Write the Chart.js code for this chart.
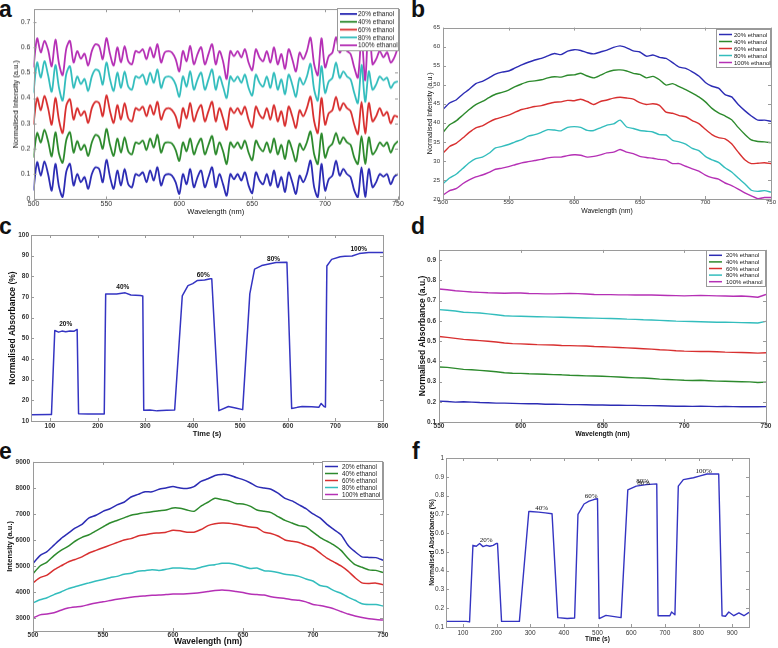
<!DOCTYPE html>
<html>
<head>
<meta charset="utf-8">
<script src="https://cdn.jsdelivr.net/npm/chart.js@4.4.1/dist/chart.umd.min.js"></script>
<style>
  html, body { margin: 0; padding: 0; background: #fff; }
  body { width: 778px; height: 648px; position: relative; overflow: hidden; }
  canvas { position: absolute; }
  .tag { position: absolute; font: bold 23px "Liberation Sans", Arial, sans-serif; line-height: 23px; color: #111; }
</style>
</head>
<body>
<div class="tag" style="left:-1px;top:-2.5px">a</div>
<div class="tag" style="left:411px;top:-2.5px">b</div>
<div class="tag" style="left:-1px;top:214.5px">c</div>
<div class="tag" style="left:411px;top:214.5px">d</div>
<div class="tag" style="left:-1px;top:439.5px">e</div>
<div class="tag" style="left:412px;top:439.5px">f</div>

<canvas id="chartA"></canvas>
<canvas id="chartB"></canvas>
<canvas id="chartC"></canvas>
<canvas id="chartD"></canvas>
<canvas id="chartE"></canvas>
<canvas id="chartF"></canvas>

<script>
// ===== DATA =====
const seriesNames = ['20% ethanol', '40% ethanol', '60% ethanol', '80% ethanol', '100% ethanol'];

// panel a : 500..750 nm, step 2.5 nm
const a20 = [0.035,0.147,0.094,0.150,0.100,0.035,0.140,0.050,0.010,0.110,
  0.140,0.055,0.100,0.068,0.088,0.042,0.100,0.127,0.120,0.068,
  0.156,0.088,0.042,0.114,0.055,0.120,0.060,0.048,0.100,0.094,
  0.107,0.068,0.114,0.075,0.127,0.055,0.094,0.100,0.094,0.068,
  0.022,0.100,0.060,0.120,0.048,0.088,0.114,0.048,0.088,0.127,
  0.048,0.100,0.060,0.015,0.100,0.080,0.100,0.075,0.107,0.055,
  0.025,0.107,0.075,0.060,0.100,0.055,0.114,0.048,0.088,0.030,
  0.107,0.068,0.022,0.094,0.068,0.100,0.153,0.048,0.010,0.140,
  0.035,0.080,0.094,0.153,0.094,0.120,0.100,0.088,0.035,0.010,
  0.127,0.010,0.120,0.048,0.068,0.100,0.090,0.100,0.060,0.090,
  0.100];
const a40 = [0.165,0.262,0.225,0.275,0.230,0.170,0.265,0.180,0.145,0.235,
  0.265,0.185,0.230,0.195,0.215,0.172,0.225,0.255,0.245,0.200,
  0.278,0.215,0.172,0.240,0.185,0.245,0.190,0.178,0.225,0.220,
  0.232,0.195,0.240,0.205,0.255,0.185,0.222,0.225,0.220,0.195,
  0.152,0.225,0.190,0.240,0.178,0.215,0.240,0.178,0.215,0.250,
  0.178,0.225,0.190,0.140,0.225,0.205,0.225,0.200,0.232,0.185,
  0.155,0.232,0.205,0.190,0.225,0.185,0.240,0.178,0.215,0.160,
  0.232,0.195,0.150,0.220,0.195,0.225,0.268,0.178,0.140,0.260,
  0.165,0.205,0.220,0.262,0.220,0.245,0.225,0.215,0.165,0.140,
  0.250,0.140,0.245,0.178,0.195,0.225,0.210,0.225,0.185,0.215,
  0.230];
const a60 = [0.295,0.400,0.352,0.408,0.360,0.295,0.400,0.312,0.262,0.370,
  0.395,0.315,0.360,0.330,0.348,0.302,0.360,0.385,0.380,0.328,
  0.410,0.348,0.302,0.372,0.315,0.380,0.320,0.308,0.360,0.352,
  0.366,0.328,0.372,0.335,0.385,0.315,0.352,0.360,0.352,0.328,
  0.282,0.360,0.320,0.380,0.308,0.348,0.372,0.308,0.348,0.385,
  0.308,0.360,0.320,0.275,0.360,0.340,0.360,0.335,0.366,0.315,
  0.285,0.366,0.335,0.320,0.360,0.315,0.372,0.308,0.348,0.290,
  0.366,0.328,0.282,0.352,0.328,0.360,0.405,0.308,0.262,0.400,
  0.295,0.340,0.352,0.405,0.352,0.380,0.360,0.348,0.295,0.258,
  0.385,0.260,0.380,0.308,0.328,0.360,0.330,0.345,0.300,0.330,
  0.325];
const a80 = [0.420,0.540,0.480,0.545,0.490,0.425,0.530,0.440,0.390,0.495,
  0.525,0.440,0.485,0.455,0.475,0.428,0.485,0.512,0.505,0.453,
  0.540,0.473,0.428,0.500,0.440,0.505,0.445,0.433,0.485,0.479,
  0.492,0.453,0.500,0.460,0.512,0.440,0.479,0.485,0.479,0.453,
  0.405,0.485,0.445,0.505,0.433,0.473,0.500,0.433,0.473,0.512,
  0.433,0.485,0.445,0.400,0.485,0.465,0.485,0.460,0.492,0.440,
  0.410,0.492,0.460,0.445,0.485,0.440,0.500,0.433,0.473,0.415,
  0.492,0.453,0.405,0.479,0.453,0.485,0.535,0.433,0.390,0.525,
  0.420,0.465,0.479,0.540,0.479,0.505,0.485,0.473,0.420,0.380,
  0.530,0.385,0.505,0.433,0.453,0.485,0.470,0.480,0.440,0.460,
  0.465];
const a100 = [0.520,0.635,0.580,0.625,0.590,0.525,0.630,0.535,0.490,0.595,
  0.625,0.540,0.585,0.555,0.575,0.528,0.585,0.612,0.605,0.553,
  0.636,0.573,0.528,0.600,0.540,0.605,0.545,0.533,0.585,0.579,
  0.592,0.553,0.600,0.560,0.612,0.540,0.579,0.585,0.579,0.553,
  0.505,0.585,0.545,0.605,0.533,0.573,0.600,0.533,0.573,0.612,
  0.533,0.585,0.545,0.475,0.585,0.565,0.585,0.560,0.592,0.540,
  0.510,0.592,0.560,0.545,0.585,0.540,0.600,0.533,0.573,0.515,
  0.592,0.553,0.505,0.579,0.553,0.585,0.638,0.533,0.490,0.635,
  0.520,0.565,0.579,0.640,0.579,0.605,0.585,0.573,0.520,0.480,
  0.640,0.470,0.720,0.533,0.553,0.585,0.560,0.580,0.540,0.560,
  0.600];

// panel b : 500..750 nm, step 5 nm
const b20 = [43.5,45.2,46.0,47.5,48.8,50.3,50.9,51.8,52.8,53.3,
  53.6,54.4,55.2,55.9,56.5,56.9,57.6,58.2,57.9,58.8,
  59.2,59.0,58.4,58.1,58.6,59.1,59.8,60.2,59.7,58.9,
  58.6,57.5,57.8,57.2,56.9,55.8,54.6,54.3,53.4,52.3,
  50.6,49.6,49.1,47.4,46.8,44.8,43.2,41.8,40.7,40.7,
  40.4];
const b40 = [37.5,39.5,40.5,42.0,43.5,44.8,45.6,46.6,47.5,48.0,
  48.6,49.5,50.2,50.8,51.0,51.3,51.8,52.1,52.0,52.5,
  52.6,53.0,52.3,51.8,52.5,53.3,53.8,53.9,53.6,53.0,
  52.7,51.8,52.2,51.3,49.9,50.3,49.5,48.7,47.8,46.8,
  45.5,43.8,42.6,41.8,40.8,38.8,37.0,35.5,35.1,35.0,
  34.8];
const b60 = [32.0,33.8,34.6,36.0,37.5,38.7,39.2,40.2,41.0,41.5,
  42.0,42.8,43.5,43.9,44.3,44.5,45.0,45.4,45.5,45.9,
  45.8,46.2,45.6,44.8,45.6,46.0,46.5,46.7,46.5,46.2,
  45.3,44.8,45.0,44.6,42.8,42.5,41.9,41.6,40.6,39.8,
  38.3,36.9,36.1,35.8,34.5,32.3,30.3,29.3,29.4,29.5,
  29.3];
const b80 = [24.0,25.5,26.5,28.0,29.5,30.6,31.0,32.0,33.4,33.8,
  34.3,35.0,35.6,36.5,36.9,37.5,38.2,38.1,37.9,38.8,
  39.0,38.8,38.0,38.0,38.7,39.4,39.7,40.7,38.9,38.5,
  38.0,37.8,37.6,36.9,36.8,35.4,35.0,34.4,33.3,32.7,
  31.2,30.3,29.6,28.2,27.1,25.5,24.0,22.3,22.0,22.2,
  21.8];
const b100 = [21.0,22.2,22.7,24.0,25.0,25.8,26.3,27.0,27.8,28.1,
  28.5,29.0,29.5,29.8,30.1,30.4,30.8,31.0,31.0,31.4,
  31.6,31.5,31.0,31.2,31.6,32.1,32.3,33.0,32.3,31.9,
  31.2,30.9,30.7,30.4,30.2,29.3,29.3,28.6,27.9,27.3,
  26.3,25.6,25.2,24.2,23.5,22.6,21.6,20.8,20.1,20.4,
  20.4];

// panel c : time (s) / absorbance (%)
const cTime = [60,100,103,110,118,125,133,142,150,157,
  160,180,200,214,217,240,258,270,290,295,
  297,310,325,345,362,378,390,400,410,425,
  437,440,455,475,490,505,520,530,545,560,
  575,598,608,620,630,650,665,670,676,679,
  682,692,710,720,735,750,770,800];
const cAbs = [13,13.2,13.1,53.8,53,53.5,53.2,53.5,53.4,54.3,
  13.5,13.4,13.4,13.4,71.5,71.5,72,71,70.7,70.5,
  15.2,15.3,14.9,15.2,15.3,70.5,75.5,76.5,78,78.2,
  78.8,78.8,15,17,16.3,15.5,71.5,83.5,85.2,86,
  86.7,86.8,16,16.6,17,16.9,16.6,18.5,17,16.8,
  85,88.2,89.5,89.7,89.8,91,91.5,91.5];
const cMarkText = ['20%', '40%', '60%', '80%', '100%'];
const cMarkTime = [133, 253, 422, 570, 749];
const cMarkAbs = [56.9, 74.8, 80.6, 88.4, 93.2];

// panel d : 550..750 nm, step 5 nm
const d20 = [0.203,0.201,0.198,0.200,0.198,0.196,0.195,0.193,0.193,0.192,
  0.191,0.190,0.190,0.188,0.188,0.187,0.186,0.186,0.185,0.184,
  0.184,0.183,0.183,0.182,0.182,0.181,0.181,0.180,0.179,0.178,
  0.178,0.177,0.178,0.177,0.176,0.177,0.176,0.175,0.176,0.175,
  0.176];
const d40 = [0.372,0.370,0.365,0.360,0.358,0.355,0.352,0.348,0.343,0.341,
  0.340,0.338,0.337,0.336,0.334,0.333,0.331,0.330,0.328,0.327,
  0.326,0.324,0.322,0.320,0.318,0.317,0.315,0.312,0.310,0.308,
  0.306,0.305,0.306,0.304,0.302,0.301,0.300,0.299,0.298,0.295,
  0.297];
const d60 = [0.522,0.518,0.513,0.508,0.505,0.502,0.499,0.495,0.490,0.487,
  0.486,0.484,0.482,0.481,0.480,0.478,0.477,0.476,0.475,0.473,
  0.472,0.470,0.468,0.466,0.464,0.462,0.460,0.457,0.455,0.452,
  0.450,0.449,0.448,0.448,0.447,0.445,0.444,0.443,0.442,0.440,
  0.442];
const d80 = [0.655,0.652,0.648,0.642,0.640,0.638,0.634,0.630,0.625,0.623,
  0.622,0.621,0.620,0.619,0.618,0.617,0.616,0.615,0.614,0.613,
  0.612,0.611,0.610,0.608,0.607,0.605,0.604,0.602,0.600,0.598,
  0.597,0.596,0.595,0.594,0.593,0.593,0.592,0.591,0.590,0.589,
  0.597];
const d100 = [0.757,0.753,0.748,0.745,0.742,0.740,0.738,0.737,0.736,0.737,
  0.737,0.735,0.734,0.733,0.733,0.734,0.735,0.734,0.732,0.730,
  0.729,0.729,0.728,0.728,0.727,0.728,0.727,0.726,0.725,0.724,
  0.723,0.724,0.725,0.724,0.723,0.722,0.721,0.722,0.720,0.716,
  0.730];

// panel e : 500..750 nm, step 5 nm
const e20 = [5100,5400,5550,5800,6050,6250,6450,6600,6850,6950,
  7100,7200,7350,7450,7650,7750,7850,7850,7950,8000,
  8050,8000,7980,8050,8250,8350,8480,8520,8500,8400,
  8320,8200,8050,8000,7950,7800,7600,7500,7350,7200,
  7000,6850,6600,6400,6200,5800,5550,5350,5330,5320,
  5220];
const e40 = [4700,5000,5150,5400,5600,5750,5950,6100,6200,6350,
  6500,6650,6750,6850,6950,7000,7050,7080,7120,7150,
  7230,7220,7150,7100,7300,7450,7600,7550,7500,7400,
  7380,7300,7150,7100,7050,6900,6750,6650,6550,6500,
  6300,6100,5950,5800,5600,5300,5050,4950,4850,4830,
  4750];
const e60 = [4350,4550,4650,4850,5000,5150,5250,5350,5500,5600,
  5700,5800,5900,6000,6050,6150,6200,6250,6270,6300,
  6370,6350,6300,6300,6400,6550,6620,6650,6640,6600,
  6550,6500,6470,6300,6250,6150,6000,5950,5900,5800,
  5700,5500,5300,5150,5000,4800,4550,4350,4330,4340,
  4280];
const e80 = [3580,3700,3780,3900,4000,4120,4200,4280,4350,4420,
  4480,4550,4600,4680,4720,4800,4820,4850,4830,4870,
  4920,4920,4900,4880,4950,5020,5050,5100,5100,5060,
  4980,4900,4920,4820,4800,4750,4680,4650,4600,4500,
  4420,4250,4200,4050,3950,3800,3680,3550,3520,3520,
  3460];
const e100 = [3000,3120,3150,3200,3300,3380,3420,3450,3520,3580,
  3620,3670,3720,3760,3800,3830,3850,3870,3880,3900,
  3920,3920,3930,3950,3980,4020,4060,4080,4060,4020,
  3980,3920,3900,3880,3820,3780,3750,3700,3680,3620,
  3520,3480,3420,3350,3250,3150,3080,3020,2970,2940,
  2920];

// panel f : time (s) / absorbance
const fTime = [50,110,120,130,140,150,160,170,180,190,
  200,203,215,268,296,300,325,345,365,382,
  410,432,442,460,475,491,500,505,525,570,
  590,615,645,676,680,700,715,720,730,740,
  755,785,805,825,860,870,880,890,905,920,
  935,950];
const fAbs = [0.13,0.13,0.127,0.535,0.53,0.545,0.528,0.535,0.53,0.535,
  0.545,0.545,0.13,0.13,0.715,0.715,0.712,0.708,0.703,0.15,
  0.145,0.148,0.70,0.755,0.77,0.78,0.783,0.145,0.162,0.15,
  0.83,0.85,0.858,0.862,0.16,0.16,0.16,0.18,0.165,0.85,
  0.885,0.895,0.905,0.915,0.915,0.16,0.157,0.18,0.16,0.175,
  0.16,0.178];
const fMarkText = ['20%', '40%', '60%', '80%', '80%', '100%'];
const fMarkTime = [169, 334, 481, 634, 637, 815];
const fMarkAbs = [0.563, 0.734, 0.798, 0.878, 0.868, 0.93];

// tick labels
const waveTicks = [500, 550, 600, 650, 700, 750];
const aYTicks = [0, 0.1, 0.2, 0.3, 0.4, 0.5, 0.6, 0.7];
const bYTicks = [20, 25, 30, 35, 40, 45, 50, 55, 60, 65];
const cXTicks = [100, 200, 300, 400, 500, 600, 700, 800];
const cYTicks = [10, 20, 30, 40, 50, 60, 70, 80, 90, 100];
const dXTicks = [550, 600, 650, 700, 750];
const dYTicks = [0.1, 0.2, 0.3, 0.4, 0.5, 0.6, 0.7, 0.8, 0.9];
const eYTicks = [3000, 4000, 5000, 6000, 7000, 8000, 9000];
const fXTicks = [100, 200, 300, 400, 500, 600, 700, 800, 900];
const fYTicks = [0.1, 0.2, 0.3, 0.4, 0.5, 0.6, 0.7, 0.8, 0.9, 1];

// ===== HELPERS =====
const SANS = '"Liberation Sans", Arial, Helvetica, sans-serif';
const colors = ['#2c2cb4', '#2d8a2d', '#d83030', '#33bdbd', '#b530b5'];

// sampling grid of a spectrum (start, step, count)
function waveGrid(start, step, n) {
    const out = [];
    for (let i = 0; i < n; i++) out.push(start + i * step);
    return out;
}

function pts(xs, ys) {
    return ys.map((v, i) => ({ x: xs[i], y: v }));
}

function spectra(xs, list, width) {
    return list.map((ys, i) => ({
        label: seriesNames[i],
        data: pts(xs, ys),
        borderColor: colors[i],
        borderWidth: width
    }));
}

// box around the plot with small inward ticks (matlab look)
const framePlugin = {
    id: 'frame',
    afterDatasetsDraw(chart) {
        const { ctx, chartArea: a, scales } = chart;
        ctx.save();
        ctx.strokeStyle = '#9a9a9a';
        ctx.lineWidth = 1;
        ctx.strokeRect(Math.round(a.left) + 0.5, Math.round(a.top) + 0.5,
            Math.round(a.right - a.left), Math.round(a.bottom - a.top));
        ctx.beginPath();
        scales.x.ticks.forEach(t => {
            const px = Math.round(scales.x.getPixelForValue(t.value)) + 0.5;
            ctx.moveTo(px, a.bottom); ctx.lineTo(px, a.bottom - 3);
            ctx.moveTo(px, a.top); ctx.lineTo(px, a.top + 3);
        });
        scales.y.ticks.forEach(t => {
            const py = Math.round(scales.y.getPixelForValue(t.value)) + 0.5;
            ctx.moveTo(a.left, py); ctx.lineTo(a.left + 3, py);
            ctx.moveTo(a.right, py); ctx.lineTo(a.right - 3, py);
        });
        ctx.stroke();
        ctx.restore();
    }
};

// legend box in the top right corner of the plot
const boxLegend = {
    id: 'boxLegend',
    afterDraw(chart, args, o) {
        if (!o || !o.w) return;
        const { ctx, chartArea: a } = chart;
        const x0 = Math.round(a.right - o.w + (o.dx || 0));
        const y0 = Math.round(a.top + (o.dy || 0));
        ctx.save();
        ctx.fillStyle = '#fff';
        ctx.fillRect(x0, y0, o.w, o.h);
        ctx.strokeStyle = '#999';
        ctx.lineWidth = 1;
        ctx.strokeRect(x0 + 0.5, y0 + 0.5, o.w - 1, o.h - 1);
        const sets = chart.data.datasets;
        const rowH = (o.h - 4) / sets.length;
        ctx.font = o.size + 'px ' + SANS;
        ctx.textBaseline = 'middle';
        ctx.textAlign = 'left';
        sets.forEach((ds, i) => {
            const cy = y0 + 2 + rowH * (i + 0.5);
            ctx.strokeStyle = ds.borderColor;
            ctx.lineWidth = o.lw;
            ctx.beginPath();
            ctx.moveTo(x0 + o.l0, cy);
            ctx.lineTo(x0 + o.l1, cy);
            ctx.stroke();
            ctx.fillStyle = '#222';
            ctx.fillText(ds.label, x0 + o.tx, cy + 0.5);
        });
        ctx.restore();
    }
};

// percentage labels above the plateaus
const marksPlugin = {
    id: 'marks',
    afterDatasetsDraw(chart, args, o) {
        if (!o || !o.text) return;
        const { ctx, scales: { x, y } } = chart;
        ctx.save();
        ctx.font = o.fontCss;
        ctx.fillStyle = '#111';
        ctx.textAlign = 'center';
        ctx.textBaseline = 'middle';
        o.text.forEach((t, i) => {
            ctx.fillText(t, x.getPixelForValue(o.xs[i]), y.getPixelForValue(o.ys[i]));
        });
        ctx.restore();
    }
};

// ===== PANEL BUILDER =====
function makePanel(id, p) {
    const AXW = p.l - p.yTitleX + 6;
    const AXH = p.xTitleY - p.b + 6;
    const PT = 6, PR = 12;
    const W = AXW + (p.r - p.l) + PR;
    const H = PT + (p.b - p.t) + AXH;
    const cv = document.getElementById(id);
    cv.width = W; cv.height = H;
    cv.style.left = (p.l - AXW) + 'px';
    cv.style.top = (p.t - PT) + 'px';
    cv.style.width = W + 'px';
    cv.style.height = H + 'px';
    const yLh = p.yTitleFont.size * 1.2;
    const xLh = p.xTitleFont.size * 1.2;
    const tickFont = Object.assign({ family: SANS }, p.tickFont);

    return new Chart(cv, {
        type: 'line',
        data: { datasets: p.datasets },
        options: {
            responsive: false,
            animation: false,
            devicePixelRatio: 1,
            layout: { padding: { top: PT, right: PR, left: 0, bottom: 0 } },
            elements: {
                point: { radius: 0 },
                line: { tension: p.tension || 0, borderJoinStyle: 'round' }
            },
            plugins: {
                legend: { display: false },
                tooltip: { enabled: false },
                boxLegend: p.legend || {},
                marks: p.marks || {}
            },
            scales: {
                x: {
                    type: 'linear',
                    min: p.xMin, max: p.xMax,
                    grid: { display: false, drawTicks: false },
                    border: { display: false },
                    afterBuildTicks: ax => { ax.ticks = p.xTicks.map(v => ({ value: v })); },
                    afterFit: ax => { ax.height = AXH; },
                    ticks: { font: tickFont, color: '#333', padding: p.xTickPad, maxRotation: 0,
                             autoSkip: false, callback: v => String(v) },
                    title: { display: true, text: p.xTitle, color: '#111',
                             font: Object.assign({ family: SANS }, p.xTitleFont),
                             padding: { top: 0, bottom: 6 - xLh / 2 } }
                },
                y: {
                    type: 'linear',
                    min: p.yMin, max: p.yMax,
                    grid: { display: false, drawTicks: false },
                    border: { display: false },
                    afterBuildTicks: ax => { ax.ticks = p.yTicks.map(v => ({ value: v })); },
                    afterFit: ax => { ax.width = AXW; },
                    ticks: { font: tickFont, color: '#333', padding: p.yTickPad,
                             autoSkip: false, callback: v => String(v) },
                    title: { display: true, text: p.yTitle, color: '#111',
                             font: Object.assign({ family: SANS }, p.yTitleFont),
                             padding: { top: 6 - yLh / 2, bottom: 0 } }
                }
            }
        },
        plugins: [framePlugin, marksPlugin, boxLegend]
    });
}

// ===== PANELS =====
const aWave = waveGrid(500, 2.5, a20.length);
const bWave = waveGrid(500, 5, b20.length);
const dWave = waveGrid(550, 5, d20.length);
const eWave = waveGrid(500, 5, e20.length);

makePanel('chartA', {
    l: 33, t: 8, r: 398, b: 199,
    xMin: 500, xMax: 750, yMin: 0, yMax: 0.75,
    xTicks: waveTicks, yTicks: aYTicks,
    tickFont: { size: 7 }, xTickPad: 0, yTickPad: 3,
    xTitle: 'Wavelength (nm)', yTitle: 'Normalised Intensity (a.u.)',
    xTitleFont: { size: 7.5 }, yTitleFont: { size: 7.5 },
    yTitleX: 15.5, xTitleY: 211.5, tension: 0.3,
    datasets: spectra(aWave, [a20, a40, a60, a80, a100], 1.8),
    legend: { w: 62, h: 43, dx: 1, dy: -1, size: 6.5, l0: 3, l1: 20, tx: 21, lw: 1.8 }
});

makePanel('chartB', {
    l: 443, t: 27, r: 771, b: 199,
    xMin: 500, xMax: 750, yMin: 20, yMax: 65,
    xTicks: waveTicks, yTicks: bYTicks,
    tickFont: { size: 6 }, xTickPad: 0, yTickPad: 3,
    xTitle: 'Wavelength (nm)', yTitle: 'Normalised Intensity (a.u.)',
    xTitleFont: { size: 6.8 }, yTitleFont: { size: 7 },
    yTitleX: 430, xTitleY: 211, tension: 0.2,
    datasets: spectra(bWave, [b20, b40, b60, b80, b100], 1.4),
    legend: { w: 55, h: 39, dx: 0, dy: 1, size: 6, l0: 3, l1: 16, tx: 18, lw: 1.5 }
});

makePanel('chartC', {
    l: 31, t: 235, r: 383, b: 421,
    xMin: 60, xMax: 800, yMin: 10, yMax: 100,
    xTicks: cXTicks, yTicks: cYTicks,
    tickFont: { size: 6.5, weight: 'bold' }, xTickPad: 1, yTickPad: 2,
    xTitle: 'Time (s)', yTitle: 'Normalised Absorbance (%)',
    xTitleFont: { size: 7.5, weight: 'bold' }, yTitleFont: { size: 8.5, weight: 'bold' },
    yTitleX: 13, xTitleY: 434,
    datasets: [{ label: 'c', data: pts(cTime, cAbs), borderColor: '#3434c2', borderWidth: 1.5 }],
    marks: { text: cMarkText, xs: cMarkTime, ys: cMarkAbs, fontCss: 'bold 6.5px ' + SANS }
});

makePanel('chartD', {
    l: 439, t: 249, r: 766, b: 422,
    xMin: 550, xMax: 750, yMin: 0.1, yMax: 0.95,
    xTicks: dXTicks, yTicks: dYTicks,
    tickFont: { size: 6.5, weight: 'bold' }, xTickPad: 0, yTickPad: 3,
    xTitle: 'Wavelength (nm)', yTitle: 'Normalised Absorbance (a.u.)',
    xTitleFont: { size: 6.8, weight: 'bold' }, yTitleFont: { size: 8.5, weight: 'bold' },
    yTitleX: 423, xTitleY: 434,
    datasets: spectra(dWave, [d20, d40, d60, d80, d100], 1.4),
    legend: { w: 60, h: 37, dx: 0, dy: 0, size: 6, l0: 3, l1: 16, tx: 20, lw: 1.5 }
});

makePanel('chartE', {
    l: 33, t: 461, r: 383, b: 631,
    xMin: 500, xMax: 750, yMin: 2500, yMax: 9000,
    xTicks: waveTicks, yTicks: eYTicks,
    tickFont: { size: 6.5, weight: 'bold' }, xTickPad: 0, yTickPad: 3,
    xTitle: 'Wavelength (nm)', yTitle: 'Intensity (a.u.)',
    xTitleFont: { size: 8.5, weight: 'bold' }, yTitleFont: { size: 7.5, weight: 'bold' },
    yTitleX: 10, xTitleY: 642, tension: 0.2,
    datasets: spectra(eWave, [e20, e40, e60, e80, e100], 1.5),
    legend: { w: 61, h: 39, dx: 0, dy: -1, size: 6.3, l0: 3, l1: 16, tx: 20, lw: 1.5 }
});

makePanel('chartF', {
    l: 446, t: 458, r: 749, b: 627,
    xMin: 50, xMax: 950, yMin: 0.1, yMax: 1,
    xTicks: fXTicks, yTicks: fYTicks,
    tickFont: { size: 6.5 }, xTickPad: 2, yTickPad: 2,
    xTitle: 'Time (s)', yTitle: 'Normalised Absorbance (%)',
    xTitleFont: { size: 6.5, weight: 'bold' }, yTitleFont: { size: 6.5, weight: 'bold' },
    yTitleX: 432, xTitleY: 639,
    datasets: [{ label: 'f', data: pts(fTime, fAbs), borderColor: '#3434c2', borderWidth: 1.4 }],
    marks: { text: fMarkText, xs: fMarkTime, ys: fMarkAbs, fontCss: '7px "Liberation Serif", "Times New Roman", serif' }
});
</script>
</body>
</html>
